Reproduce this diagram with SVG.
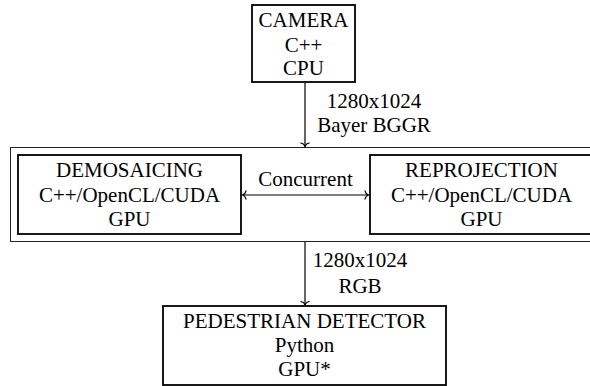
<svg xmlns="http://www.w3.org/2000/svg" width="590" height="386" viewBox="0 0 590 386">
  <style>
    .box { fill: #ffffff; stroke: #000000; stroke-width: 1.8; }
    .frame { fill: none; stroke: #222222; stroke-width: 1; }
    .edge { fill: none; stroke: #000000; stroke-width: 1.2; }
    .lbl { fill: #000000; text-anchor: middle; }
  </style>
  <defs>
    <marker id="tip" viewBox="-5 -5 7 10" markerWidth="7" markerHeight="10" refX="0" refY="0" orient="auto-start-reverse" markerUnits="userSpaceOnUse">
      <path d="M -3.5,-4.2 C -3,-1.6 -1.2,-0.4 0,0 C -1.2,0.4 -3,1.6 -3.5,4.2" fill="none" stroke="#000000" stroke-width="1.1" stroke-linecap="round"/>
    </marker>
  </defs>

  <!-- stage grouping frame -->
  <rect class="frame" x="10.5" y="147.5" width="600" height="94"/>

  <g font-family="Liberation Serif, serif" font-size="21">
    <g id="camera">
      <rect class="box" x="252" y="5" width="103" height="77"/>
      <text class="lbl" x="303.5" y="27">CAMERA</text>
      <text class="lbl" x="303.5" y="52">C++</text>
      <text class="lbl" x="303.5" y="75">CPU</text>
    </g>

    <g id="demosaicing">
      <rect class="box" x="18" y="155" width="223" height="79"/>
      <text class="lbl" x="129.5" y="177">DEMOSAICING</text>
      <text class="lbl" x="129.5" y="202">C++/OpenCL/CUDA</text>
      <text class="lbl" x="129.5" y="226">GPU</text>
    </g>

    <g id="reprojection">
      <rect class="box" x="370" y="155" width="223" height="79"/>
      <text class="lbl" x="481.5" y="177">REPROJECTION</text>
      <text class="lbl" x="481.5" y="202">C++/OpenCL/CUDA</text>
      <text class="lbl" x="481.5" y="226">GPU</text>
    </g>

    <g id="pedestrian-detector">
      <rect class="box" x="163" y="306" width="283" height="79"/>
      <text class="lbl" x="304.5" y="328">PEDESTRIAN DETECTOR</text>
      <text class="lbl" x="304.5" y="352">Python</text>
      <text class="lbl" x="304.5" y="376">GPU*</text>
    </g>

    <g id="connectors">
      <line class="edge" x1="305" y1="83" x2="305" y2="146.5" marker-end="url(#tip)"/>
      <text class="lbl" x="374" y="108">1280x1024</text>
      <text class="lbl" x="374" y="132">Bayer BGGR</text>

      <line class="edge" x1="242.5" y1="195" x2="368.5" y2="195" marker-start="url(#tip)" marker-end="url(#tip)"/>
      <text class="lbl" x="305.5" y="186">Concurrent</text>

      <line class="edge" x1="305" y1="242" x2="305" y2="305" marker-end="url(#tip)"/>
      <text class="lbl" x="360" y="267">1280x1024</text>
      <text class="lbl" x="360" y="293">RGB</text>
    </g>
  </g>
</svg>
